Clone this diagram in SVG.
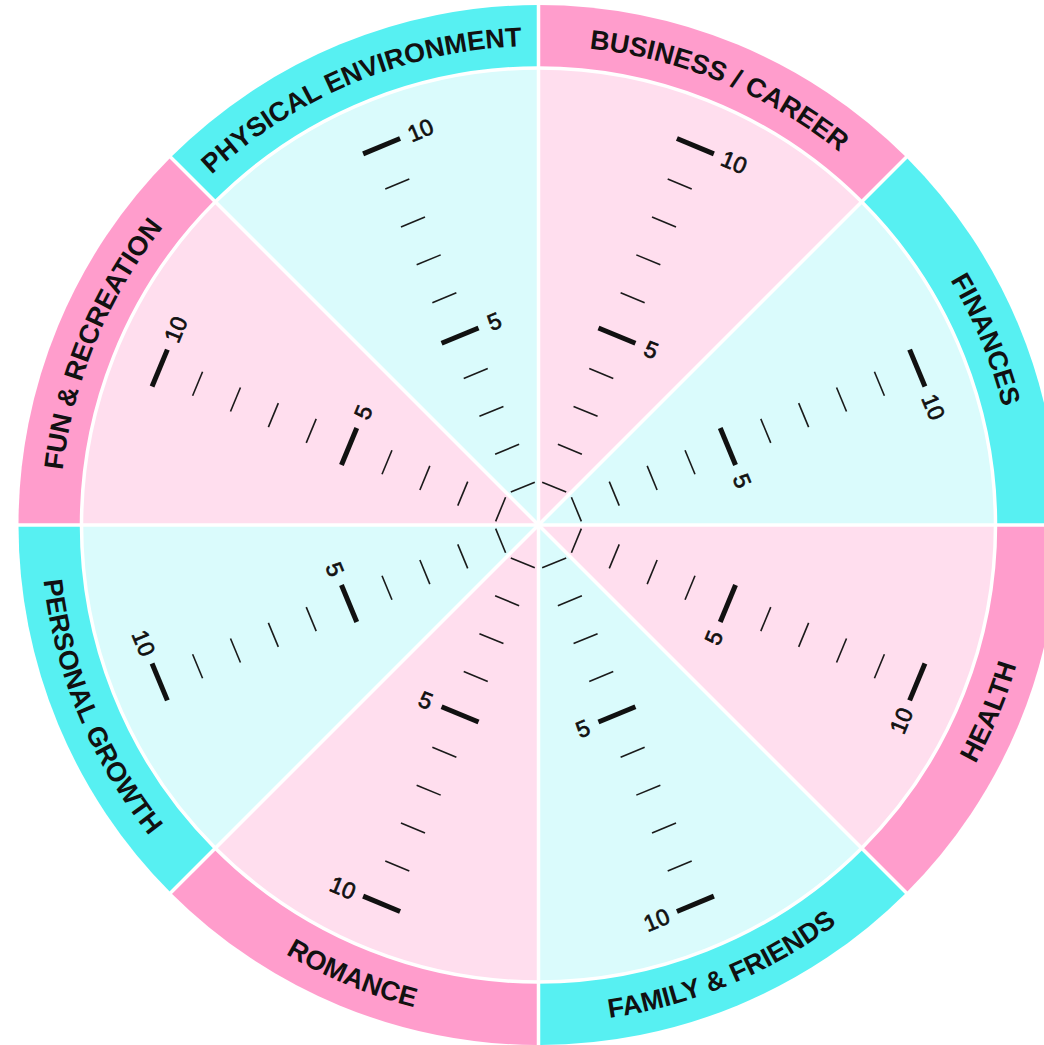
<svg xmlns="http://www.w3.org/2000/svg" width="1044" height="1045" viewBox="0 0 1044 1045">
<style>
.rp{fill:#FF9DCC}
.rc{fill:#57F0F2}
.ip{fill:#FFDEEE}
.ic{fill:#DAFBFC}
.mn{stroke:#1a1a1a;stroke-width:1.6}
.mj{stroke:#111;stroke-width:5}
.num{font-family:"Liberation Sans",Arial,sans-serif;font-size:23px;fill:#111;stroke:#111;stroke-width:0.7;text-anchor:middle}
.lbl{font-family:"Liberation Sans",Arial,sans-serif;font-size:27px;font-weight:bold;fill:#111}
.div{stroke:#fff;stroke-width:3.5;fill:none}
</style>
<defs>
<path id="ring" d="M0 0 L-199 -480.42 A520 520 0 0 1 199 -480.42 Z"/>
<path id="inner" d="M0 0 L-174.89 -422.21 A457 457 0 0 1 174.89 -422.21 Z"/>
<path id="arcTop" d="M-366.93 -307.9 A479 479 0 0 1 366.93 -307.9"/>
<path id="arcBot" d="M-381.49 320.11 A498 498 0 0 0 381.49 320.11"/>
<g id="scale">
<line class="mn" x1="-13" y1="-41" x2="13" y2="-41"/>
<line class="mn" x1="-13" y1="-82" x2="13" y2="-82"/>
<line class="mn" x1="-13" y1="-123" x2="13" y2="-123"/>
<line class="mn" x1="-13" y1="-164" x2="13" y2="-164"/>
<line class="mj" x1="-20" y1="-205" x2="20" y2="-205"/>
<line class="mn" x1="-13" y1="-246" x2="13" y2="-246"/>
<line class="mn" x1="-13" y1="-287" x2="13" y2="-287"/>
<line class="mn" x1="-13" y1="-328" x2="13" y2="-328"/>
<line class="mn" x1="-13" y1="-369" x2="13" y2="-369"/>
<line class="mj" x1="-20" y1="-410" x2="20" y2="-410"/>
</g>
</defs>
<rect width="1044" height="1045" fill="#fff"/>

<g id="physical-environment" transform="translate(538.5 525) rotate(-22.5)">
<use href="#ring" class="rc"/><use href="#inner" class="ic"/><use href="#scale"/>
<text class="num" x="42" y="-410" dy="0.35em">10</text>
<text class="num" x="37" y="-205" dy="0.35em">5</text>
<text class="lbl"><textPath href="#arcTop" startOffset="50%" text-anchor="middle">PHYSICAL ENVIRONMENT</textPath></text>
</g>

<g id="business-career" transform="translate(538.5 525) rotate(22.5)">
<use href="#ring" class="rp"/><use href="#inner" class="ip"/><use href="#scale"/>
<text class="num" x="42" y="-410" dy="0.35em">10</text>
<text class="num" x="37" y="-205" dy="0.35em">5</text>
<text class="lbl"><textPath href="#arcTop" startOffset="50%" text-anchor="middle">BUSINESS / CAREER</textPath></text>
</g>

<g id="finances" transform="translate(538.5 525) rotate(67.5)">
<use href="#ring" class="rc"/><use href="#inner" class="ic"/><use href="#scale"/>
<text class="num" x="42" y="-410" dy="0.35em">10</text>
<text class="num" x="37" y="-205" dy="0.35em">5</text>
<text class="lbl"><textPath href="#arcTop" startOffset="50%" text-anchor="middle">FINANCES</textPath></text>
</g>

<g id="health" transform="translate(538.5 525) rotate(112.5)">
<use href="#ring" class="rp"/><use href="#inner" class="ip"/><use href="#scale"/>
<text class="num" x="42" y="-410" dy="0.35em" transform="rotate(180 42 -410)">10</text>
<text class="num" x="37" y="-205" dy="0.35em" transform="rotate(180 37 -205)">5</text>
<g transform="rotate(180)"><text class="lbl"><textPath href="#arcBot" startOffset="50%" text-anchor="middle">HEALTH</textPath></text></g>
</g>

<g id="family-friends" transform="translate(538.5 525) rotate(157.5)">
<use href="#ring" class="rc"/><use href="#inner" class="ic"/><use href="#scale"/>
<text class="num" x="42" y="-410" dy="0.35em" transform="rotate(180 42 -410)">10</text>
<text class="num" x="37" y="-205" dy="0.35em" transform="rotate(180 37 -205)">5</text>
<g transform="rotate(180)"><text class="lbl"><textPath href="#arcBot" startOffset="50%" text-anchor="middle">FAMILY &amp; FRIENDS</textPath></text></g>
</g>

<g id="romance" transform="translate(538.5 525) rotate(202.5)">
<use href="#ring" class="rp"/><use href="#inner" class="ip"/><use href="#scale"/>
<text class="num" x="42" y="-410" dy="0.35em" transform="rotate(180 42 -410)">10</text>
<text class="num" x="37" y="-205" dy="0.35em" transform="rotate(180 37 -205)">5</text>
<g transform="rotate(180)"><text class="lbl"><textPath href="#arcBot" startOffset="50%" text-anchor="middle">ROMANCE</textPath></text></g>
</g>

<g id="personal-growth" transform="translate(538.5 525) rotate(247.5)">
<use href="#ring" class="rc"/><use href="#inner" class="ic"/><use href="#scale"/>
<text class="num" x="42" y="-410" dy="0.35em" transform="rotate(180 42 -410)">10</text>
<text class="num" x="37" y="-205" dy="0.35em" transform="rotate(180 37 -205)">5</text>
<g transform="rotate(180)"><text class="lbl"><textPath href="#arcBot" startOffset="50%" text-anchor="middle">PERSONAL GROWTH</textPath></text></g>
</g>

<g id="fun-recreation" transform="translate(538.5 525) rotate(292.5)">
<use href="#ring" class="rp"/><use href="#inner" class="ip"/><use href="#scale"/>
<text class="num" x="42" y="-410" dy="0.35em">10</text>
<text class="num" x="37" y="-205" dy="0.35em">5</text>
<text class="lbl"><textPath href="#arcTop" startOffset="50%" text-anchor="middle">FUN &amp; RECREATION</textPath></text>
</g>

<g id="dividers">
<circle class="div" cx="538.5" cy="525" r="457"/>
<line class="div" x1="8.5" y1="525" x2="1068.5" y2="525"/>
<line class="div" x1="538.5" y1="-5" x2="538.5" y2="1055"/>
<line class="div" x1="163.73" y1="150.23" x2="913.27" y2="899.77"/>
<line class="div" x1="163.73" y1="899.77" x2="913.27" y2="150.23"/>
</g>
</svg>
